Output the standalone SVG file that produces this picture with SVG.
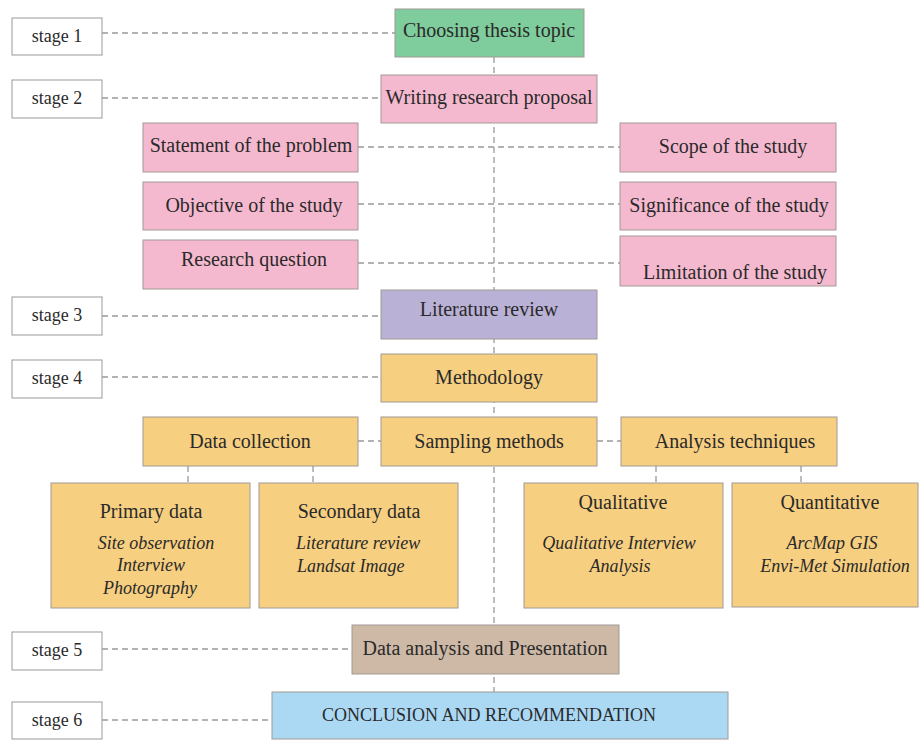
<svg xmlns="http://www.w3.org/2000/svg" width="920" height="740" viewBox="0 0 920 740">
<style>
.t{font-family:"Liberation Serif","Times New Roman",serif;font-size:20px;fill:#2a2a2a;text-anchor:middle}
.st{font-size:18px}
.h{font-size:20px}
.i{font-style:italic;font-size:18px}
.s{fill:#fff;stroke:#999;stroke-width:1}
.b{stroke:#a09a95;stroke-width:1}
.g{fill:#7fcc9c}.p{fill:#f5b9cf}.v{fill:#bab1d7}.o{fill:#f7cf80}.n{fill:#cdb9a6}.c{fill:#abd9f4}
.d{stroke:#9a9a9a;stroke-width:1.3;stroke-dasharray:6 4;fill:none}
</style>
<rect width="920" height="740" fill="#fff"/>
<g id="connectors">
<path class="d" d="M494 57V692"/>
<path class="d" d="M102 33H395M102 98H381M102 316H381M102 377H381M102 649H352M102 720H272"/>
<path class="d" d="M358 147H620M358 204H620M358 263H620"/>
<path class="d" d="M358 441H381M597 441H621"/>
<path class="d" d="M188 466V483M313 466V483M656 466V483M801 466V483"/>
</g>
<g id="stage1"><rect class="s" x="12" y="18" width="90" height="37"/><text class="t st" x="57" y="42">stage 1</text></g>
<g id="stage2"><rect class="s" x="12" y="80" width="90" height="38"/><text class="t st" x="57" y="104">stage 2</text></g>
<g id="stage3"><rect class="s" x="12" y="297" width="90" height="38"/><text class="t st" x="57" y="321">stage 3</text></g>
<g id="stage4"><rect class="s" x="12" y="360" width="90" height="38"/><text class="t st" x="57" y="384">stage 4</text></g>
<g id="stage5"><rect class="s" x="12" y="632" width="90" height="38"/><text class="t st" x="57" y="656">stage 5</text></g>
<g id="stage6"><rect class="s" x="12" y="702" width="90" height="37"/><text class="t st" x="57" y="726">stage 6</text></g>
<g id="choosing"><rect class="b g" x="395" y="9" width="189" height="48"/><text class="t" x="489" y="37">Choosing thesis topic</text></g>
<g id="proposal"><rect class="b p" x="381" y="75" width="216" height="48"/><text class="t" x="489" y="104">Writing research proposal</text></g>
<g id="statement"><rect class="b p" x="143" y="123" width="215" height="49"/><text class="t" x="251" y="152">Statement of the problem</text></g>
<g id="scope"><rect class="b p" x="620" y="123" width="216" height="49"/><text class="t" x="733" y="153">Scope of the study</text></g>
<g id="objective"><rect class="b p" x="143" y="182" width="215" height="48"/><text class="t" x="254" y="212">Objective of the study</text></g>
<g id="significance"><rect class="b p" x="620" y="182" width="216" height="48"/><text class="t" x="729" y="212">Significance of the study</text></g>
<g id="question"><rect class="b p" x="143" y="240" width="215" height="49"/><text class="t" x="254" y="266">Research question</text></g>
<g id="limitation"><rect class="b p" x="620" y="236" width="216" height="50"/><text class="t" x="735" y="279">Limitation of the study</text></g>
<g id="literature"><rect class="b v" x="381" y="290" width="216" height="49"/><text class="t" x="489" y="316">Literature review</text></g>
<g id="methodology"><rect class="b o" x="381" y="354" width="216" height="48"/><text class="t" x="489" y="384">Methodology</text></g>
<g id="datacollection"><rect class="b o" x="143" y="417" width="215" height="49"/><text class="t" x="250" y="448">Data collection</text></g>
<g id="sampling"><rect class="b o" x="381" y="417" width="216" height="49"/><text class="t" x="489" y="448">Sampling methods</text></g>
<g id="analysis"><rect class="b o" x="621" y="417" width="216" height="49"/><text class="t" x="735" y="448">Analysis techniques</text></g>
<g id="primary"><rect class="b o" x="51" y="483" width="199" height="125"/>
<text class="t h" x="151" y="518">Primary data</text>
<text class="t i" x="156" y="549">Site observation</text>
<text class="t i" x="151" y="571">Interview</text>
<text class="t i" x="150" y="594">Photography</text></g>
<g id="secondary"><rect class="b o" x="259" y="483" width="199" height="125"/>
<text class="t h" x="359" y="518">Secondary data</text>
<text class="t i" x="296" y="549" style="text-anchor:start">Literature review</text>
<text class="t i" x="297" y="572" style="text-anchor:start">Landsat Image</text></g>
<g id="qualitative"><rect class="b o" x="524" y="483" width="199" height="125"/>
<text class="t h" x="623" y="509">Qualitative</text>
<text class="t i" x="619" y="549">Qualitative Interview</text>
<text class="t i" x="620" y="572">Analysis</text></g>
<g id="quantitative"><rect class="b o" x="732" y="483" width="186" height="124"/>
<text class="t h" x="830" y="509">Quantitative</text>
<text class="t i" x="832" y="549">ArcMap GIS</text>
<text class="t i" x="835" y="572">Envi-Met Simulation</text></g>
<g id="dataanalysis"><rect class="b n" x="352" y="625" width="267" height="49"/><text class="t" x="485" y="655">Data analysis and Presentation</text></g>
<g id="conclusion"><rect class="b c" x="272" y="692" width="456" height="47"/><text class="t" x="489" y="721" style="font-size:18px">CONCLUSION AND RECOMMENDATION</text></g>
</svg>
